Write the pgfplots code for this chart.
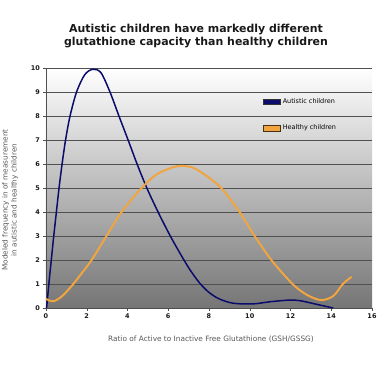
\documentclass[border=0pt]{standalone}
\usepackage{fontspec}
\setmainfont{DejaVu Sans}
\usepackage{pgfplots}
\pgfplotsset{compat=1.18}
\definecolor{autblue}{HTML}{0B0B6B}
\definecolor{healthor}{HTML}{F0A540}
\definecolor{gridc}{HTML}{505050}
\begin{document}
\begin{tikzpicture}
\path[use as bounding box] (-46bp,-59bp) rectangle (337bp,308bp);
\begin{axis}[
  scale only axis, width=326bp, height=240bp,
  xmin=0, xmax=16, ymin=0, ymax=10,
  xtick={0,2,...,16}, ytick={0,1,...,10},
  axis lines=left, axis line style={gridc, line width=0.6pt, -},
  tick style={gridc, line width=0.5pt}, tick align=outside, major tick length=2.5bp,
  ymajorgrids, grid style={gridc, line width=0.8pt},
  axis background/.style={shade, top color=white, bottom color=black!54},
  /pgf/number format/assume math mode=true,
  ticklabel style={font=\bfseries\fontsize{6.5}{7.5}\selectfont, text=black!90},
  xlabel={Ratio of Active to Inactive Free Glutathione (GSH/GSSG)},
  xlabel style={font=\fontsize{7.4}{8.5}\selectfont, text=black!65, at={(axis description cs:0.506,-0.13)}, anchor=center},
  ylabel={Modeled frequency in of measurement\\in autistic and healthy children},
  ylabel style={font=\fontsize{7.3}{9}\selectfont, text=black!65, align=center, at={(axis description cs:-0.11,0.45)}, anchor=center},
  legend style={at={(axis description cs:0.66,0.89)}, anchor=north west, draw=none, fill=none, font=\fontsize{6.5}{7.5}\selectfont, row sep=16pt, inner sep=2pt},
  legend cell align=left,
  clip=true,
]
\addplot[autblue, line width=1.5pt, smooth, tension=0.5, forget plot] coordinates {
(0.03,0) (0.14,1) (0.26,2) (0.38,3) (0.51,4) (0.64,5) (0.79,6) (0.96,7) (1.18,8) (1.5,9) (1.9,9.72) (2.3,9.95) (2.7,9.8) (3.14,9) (3.58,8) (4.03,7) (4.47,6) (4.95,5) (5.5,4) (6.1,3) (6.7,2.1) (7.1,1.55) (7.55,1.03) (8,0.65) (8.5,0.38) (9.18,0.2) (10.15,0.17) (11,0.26) (11.96,0.33) (12.5,0.3) (13.3,0.15) (14.1,0)
};
\addplot[healthor, line width=2pt, smooth, tension=0.5, forget plot] coordinates {
(0,0.38) (0.36,0.28) (0.8,0.5) (1.34,1) (1.8,1.5) (2.24,2) (2.97,3) (3.71,4) (4.69,5) (5.4,5.55) (6.08,5.82) (6.6,5.92) (7.2,5.85) (7.8,5.55) (8.6,5) (9.5,4) (10.24,3) (11.06,2) (12.1,1) (12.8,0.55) (13.5,0.33) (14.1,0.5) (14.57,1) (15,1.3)
};
\addlegendimage{area legend, fill=autblue, draw=black!80}
\addlegendentry{Autistic children}
\addlegendimage{area legend, fill=healthor, draw=black!70!healthor}
\addlegendentry{Healthy children}
\end{axis}
\node[font=\bfseries\fontsize{11}{14}\selectfont, align=center, text=black!90] at (150bp,272bp) {Autistic children have markedly different\\glutathione capacity than healthy children};
\end{tikzpicture}
\end{document}
